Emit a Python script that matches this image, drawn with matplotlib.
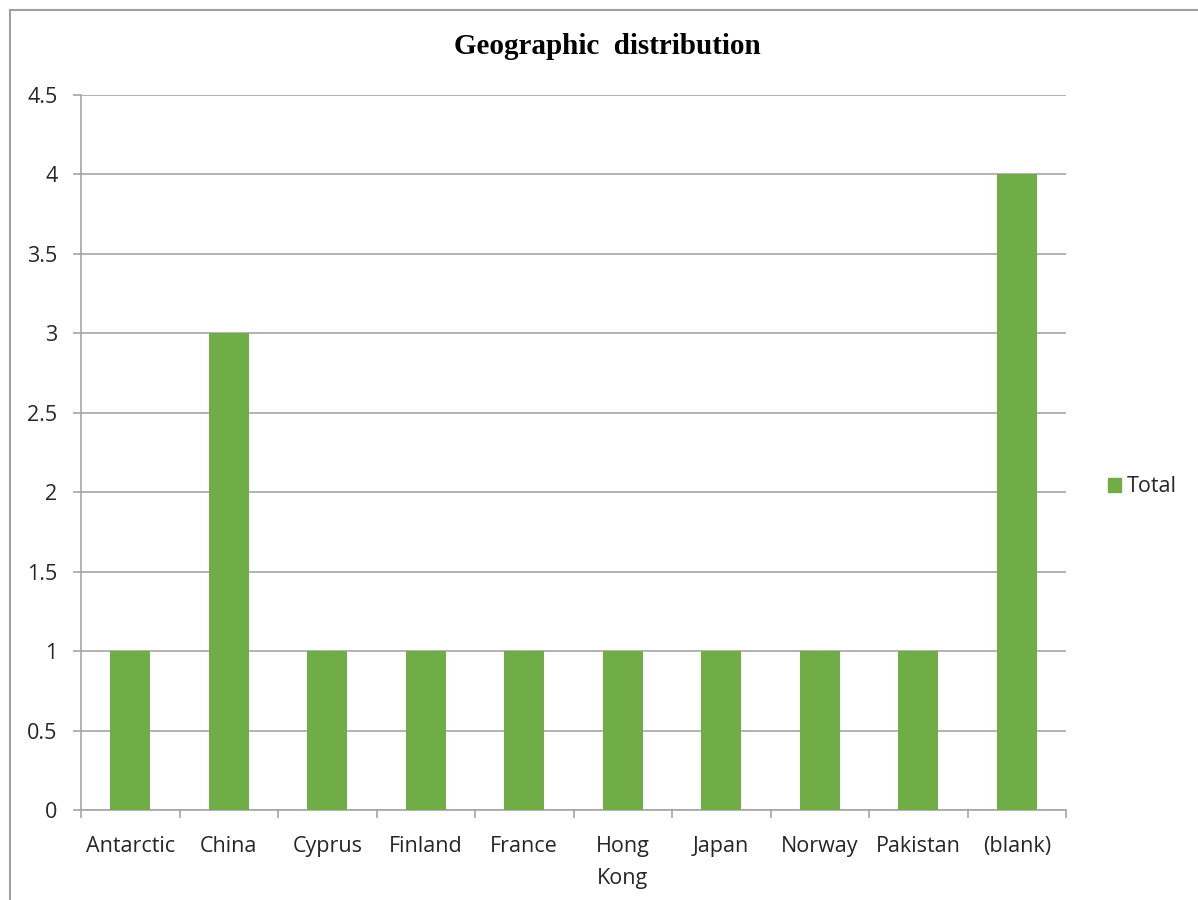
import matplotlib.pyplot as plt
from matplotlib.patches import Rectangle, Patch

countries = ["Antarctic", "China", "Cyprus", "Finland", "France",
             "Hong\nKong", "Japan", "Norway", "Pakistan", "(blank)"]
totals = [1, 3, 1, 1, 1, 1, 1, 1, 1, 4]
yticks = [0, 0.5, 1, 1.5, 2, 2.5, 3, 3.5, 4, 4.5]

W, H = 1198, 900
fig = plt.figure(figsize=(W / 100, H / 100), dpi=100)
plt.rcParams['font.family'] = ['Open Sans', 'DejaVu Sans']
label_size = 15.5
text_color = '#262626'

# chart frame, clipped at the right and bottom edge
fig.patches.append(Rectangle((10 / W, -0.1), 1.2, 1 - 10 / H + 0.1,
                             transform=fig.transFigure, fill=False,
                             edgecolor='#a0a0a0', linewidth=1.5))

ax = fig.add_axes([81 / W, 1 - 810 / H, (1066 - 81) / W, (810 - 95) / H])
grid_color = '#a6a6a6'
x = range(len(countries))
ax.bar(x, totals, width=0.41, color='#70ad47', zorder=3, label='Total')

ax.set_xlim(-0.5, len(countries) - 0.5)
ax.set_ylim(0, 4.5)
ax.set_yticks(yticks)
ax.set_yticklabels([f"{t:g}" for t in yticks], fontsize=label_size, color=text_color)
ax.yaxis.grid(True, color=grid_color, linewidth=1.2, zorder=0)
ax.tick_params(axis='y', length=6, color=grid_color, width=1.2, pad=11)

# category labels between boundary ticks
ax.set_xticks(list(x))
ax.set_xticklabels(countries, fontsize=label_size, color=text_color, linespacing=1.65)
ax.tick_params(axis='x', length=0, pad=19)
ax.set_xticks([i - 0.5 for i in range(len(countries) + 1)], minor=True)
ax.tick_params(axis='x', which='minor', length=6, color=grid_color, width=1.2)

for side in ['top', 'right']:
    ax.spines[side].set_visible(False)
for side in ['left', 'bottom']:
    ax.spines[side].set_color(grid_color)
    ax.spines[side].set_linewidth(1.2)

fig.text(607 / W, 1 - 47 / H, "Geographic  distribution", ha='center', va='center',
         fontsize=21, fontweight='bold', family=['Liberation Serif'])

fig.legend(handles=[Patch(color='#70ad47', label='Total')],
           loc='center left', bbox_to_anchor=(1089 / W, 1 - 487 / H),
           frameon=False, fontsize=label_size, handlelength=0.6, handleheight=0.6,
           handletextpad=0.25, labelcolor=text_color)

fig.savefig("out.png", dpi=100)
